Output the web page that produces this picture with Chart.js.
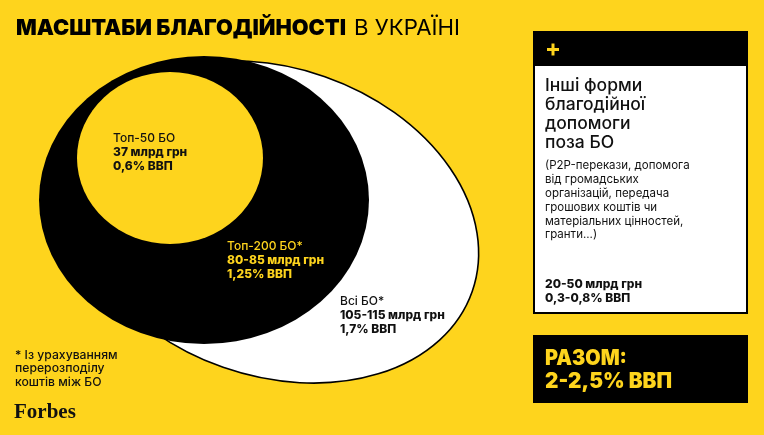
<!DOCTYPE html>
<html>
<head>
<meta charset="utf-8">
<script src="https://cdn.jsdelivr.net/npm/chart.js@4.4.1/dist/chart.umd.min.js"></script>
<style>
  html, body { margin: 0; padding: 0; background: #FED41D; }
  #scale { display: block; }
</style>
</head>
<body>
<canvas id="scale" width="764" height="435"></canvas>
<script>
const groups = ["Топ-50 БО", "Топ-200 БО*", "Всі БО*"];
const amounts = ["37 млрд грн", "80-85 млрд грн", "105-115 млрд грн"];
const gdpShares = ["0,6% ВВП", "1,25% ВВП", "1,7% ВВП"];

const otherTitle = ["Інші форми", "благодійної", "допомоги", "поза БО"];
const otherNote = [
  "(P2P-перекази, допомога",
  "від громадських",
  "організацій, передача",
  "грошових коштів чи",
  "матеріальних цінностей,",
  "гранти...)",
];
const otherAmount = "20-50 млрд грн";
const otherGdp = "0,3-0,8% ВВП";
const totalLines = ["РАЗОМ:", "2-2,5% ВВП"];
const footnote = ["* Із урахуванням", "перерозподілу", "коштів між БО"];

const YELLOW = "#FED41D";
const FONT = "Inter, 'Noto Sans', sans-serif";

// ellipse layout (scale units = canvas px), drawn biggest first
const shapesLayout = [
  { cx: 274, cy: 222, rx: 210, ry: 154, rot: 19.3, fill: "#fff", stroke: "#000", text: "#111", lx: 340, ly: 301 },
  { cx: 204, cy: 200, rx: 165, ry: 144, rot: 0, fill: "#000", stroke: null, text: YELLOW, lx: 227, ly: 246 },
  { cx: 170, cy: 158, rx: 93, ry: 86, rot: 0, fill: YELLOW, stroke: null, text: "#111", lx: 113, ly: 138 },
];
const order = [2, 1, 0]; // index into groups for each shape

// draw text squeezed/stretched to a target width
function fitText(ctx, text, x, y, width) {
  const sx = width / ctx.measureText(text).width;
  ctx.save();
  ctx.translate(x, y);
  ctx.scale(sx, 1);
  ctx.fillText(text, 0, 0);
  ctx.restore();
}

const ellipses = {
  id: "ellipses",
  beforeDraw(chart) {
    const ctx = chart.ctx;
    ctx.save();
    ctx.fillStyle = YELLOW;
    ctx.fillRect(0, 0, chart.width, chart.height);
    ctx.restore();
  },
  beforeDatasetsDraw(chart) {
    const { ctx, scales: { x, y } } = chart;
    chart.data.datasets.forEach((ds) => {
      const p = ds.data[0];
      const cx = x.getPixelForValue(p.x);
      const cy = y.getPixelForValue(p.y);
      const rx = Math.abs(x.getPixelForValue(p.x + ds.rx) - cx);
      const ry = Math.abs(y.getPixelForValue(p.y + ds.ry) - cy);
      ctx.save();
      ctx.beginPath();
      ctx.ellipse(cx, cy, rx, ry, (ds.rot * Math.PI) / 180, 0, Math.PI * 2);
      ctx.fillStyle = ds.backgroundColor;
      ctx.fill();
      if (ds.borderColor) {
        ctx.lineWidth = 1.6;
        ctx.strokeStyle = ds.borderColor;
        ctx.stroke();
      }
      ctx.restore();
    });
  },
  afterDatasetsDraw(chart) {
    const { ctx, scales: { x, y } } = chart;
    ctx.save();
    ctx.textBaseline = "middle";
    ctx.textAlign = "left";

    // labels of the ellipses
    chart.data.datasets.forEach((ds) => {
      const lx = x.getPixelForValue(ds.lx);
      const ly = y.getPixelForValue(ds.ly);
      ctx.fillStyle = ds.textColor;
      ctx.font = "500 12px " + FONT;
      ctx.fillText(ds.label, lx, ly);
      ctx.font = "800 12px " + FONT;
      ctx.fillText(ds.amount, lx, ly + 14);
      ctx.fillText(ds.gdp, lx, ly + 28);
    });

    // title
    ctx.fillStyle = "#000";
    ctx.font = "900 22px " + FONT;
    fitText(ctx, "МАСШТАБИ БЛАГОДІЙНОСТІ", 16, 28, 330);
    ctx.font = "400 22px " + FONT;
    fitText(ctx, "В УКРАЇНІ", 354, 28, 106);

    // right panel
    ctx.fillStyle = "#fff";
    ctx.fillRect(533, 31, 215, 283);
    ctx.lineWidth = 2;
    ctx.strokeStyle = "#000";
    ctx.strokeRect(534, 32, 213, 281);
    ctx.fillStyle = "#000";
    ctx.fillRect(533, 31, 215, 35);
    ctx.fillStyle = YELLOW;
    ctx.fillRect(547, 48, 12, 3);
    ctx.fillRect(551.5, 43.5, 3, 12);

    ctx.fillStyle = "#111";
    ctx.font = "500 17.5px " + FONT;
    otherTitle.forEach((t, i) => ctx.fillText(t, 545, 86 + i * 19));
    ctx.font = "400 11.5px " + FONT;
    otherNote.forEach((t, i) => ctx.fillText(t, 545, 166 + i * 13.8));
    ctx.font = "800 12px " + FONT;
    ctx.fillText(otherAmount, 545, 284);
    ctx.fillText(otherGdp, 545, 298);

    // total box
    ctx.fillStyle = "#000";
    ctx.fillRect(533, 335, 215, 68);
    ctx.fillStyle = YELLOW;
    ctx.font = "900 21px " + FONT;
    fitText(ctx, totalLines[0], 545, 359, 82);
    fitText(ctx, totalLines[1], 545, 382, 127);

    // footnote
    ctx.fillStyle = "#111";
    ctx.font = "500 12.2px " + FONT;
    footnote.forEach((t, i) => ctx.fillText(t, 15, 355 + i * 13.5));

    // logo
    ctx.font = "bold 21px 'Liberation Serif', serif";
    ctx.fillText("Forbes", 14, 413);
    ctx.restore();
  },
};

const datasets = shapesLayout.map((s, i) => {
  const k = order[i];
  return {
    label: groups[k],
    amount: amounts[k],
    gdp: gdpShares[k],
    data: [{ x: s.cx, y: s.cy }],
    rx: s.rx,
    ry: s.ry,
    rot: s.rot,
    lx: s.lx,
    ly: s.ly,
    textColor: s.text,
    backgroundColor: s.fill,
    borderColor: s.stroke,
    pointRadius: 0,
  };
});

new Chart(document.getElementById("scale"), {
  type: "scatter",
  data: { datasets: datasets },
  options: {
    responsive: false,
    animation: false,
    events: [],
    layout: { padding: 0 },
    plugins: {
      legend: { display: false },
      tooltip: { enabled: false },
    },
    scales: {
      x: { type: "linear", min: 0, max: 764, display: false },
      y: { type: "linear", min: 0, max: 435, reverse: true, display: false },
    },
  },
  plugins: [ellipses],
});
</script>
</body>
</html>
